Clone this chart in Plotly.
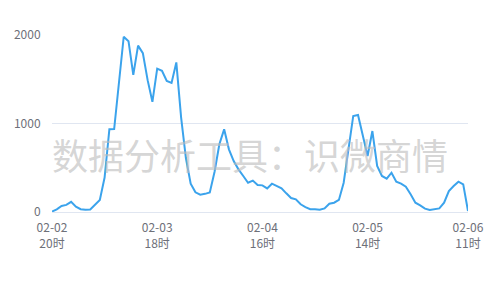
import plotly.graph_objects as go
import pandas as pd

# hourly categories from 02-02 20时 to 02-06 11时
hours = pd.date_range("2023-02-02 20:00", "2023-02-06 11:00", freq="h")
categories = [f"{h.strftime('%m-%d')} {h.hour}时" for h in hours]

values = [5, 30, 68, 80, 115, 60, 32, 25, 28, 87,
          135, 390, 935, 938, 1450, 1980, 1930, 1550, 1880, 1795,
          1490, 1245, 1620, 1595, 1480, 1458, 1690, 1070, 610, 320,
          222, 196, 205, 220, 455, 765, 934, 708, 576, 482,
          407, 331, 355, 305, 301, 267, 320, 290, 267, 211,
          158, 143, 87, 56, 32, 32, 25, 41, 94, 105,
          136, 331, 727, 1085, 1096, 859, 633, 915, 520, 407,
          377, 444, 343, 320, 286, 200, 105, 75, 38, 23,
          30, 41, 105, 237, 294, 343, 313, 11]

tick_cats = ["02-02 20时", "02-03 18时", "02-04 16时", "02-05 14时", "02-06 11时"]
tick_text = ["02-02<br>20时", "02-03<br>18时", "02-04<br>16时", "02-05<br>14时", "02-06<br>11时"]
y_ticks = [0, 1000, 2000]

font_family = "Noto Sans CJK SC, Noto Sans, sans-serif"

fig = go.Figure()
fig.add_trace(go.Scatter(
    x=categories, y=values, mode="lines",
    line=dict(color="#3ba3ec", width=2),
    hoverinfo="x+y",
))

fig.update_layout(
    width=500, height=300,
    margin=dict(l=52, r=32, t=35, b=88),
    paper_bgcolor="white", plot_bgcolor="white",
    showlegend=False,
    font=dict(family=font_family, size=12, color="#6e7079"),
    xaxis=dict(
        type="category",
        range=[0, len(categories) - 1],
        tickmode="array", tickvals=tick_cats, ticktext=tick_text,
        showgrid=False, zeroline=False,
        showline=True, linecolor="#e0e6f1", linewidth=1,
        ticks="outside", ticklen=5, tickcolor="rgba(0,0,0,0)",
        tickfont=dict(size=12, color="#6e7079"),
        tickangle=0,
    ),
    yaxis=dict(
        range=[0, 2000],
        tickmode="array", tickvals=y_ticks,
        showgrid=True, gridcolor="#e0e6f1", gridwidth=1,
        zeroline=False, showline=False,
        ticks="outside", ticklen=8, tickcolor="rgba(0,0,0,0)",
        tickfont=dict(size=12, color="#6e7079"),
    ),
    annotations=[dict(
        text="数据分析工具：识微商情",
        xref="paper", yref="paper",
        x=(250 - 52) / 416, y=(212 - 154) / 177,
        xanchor="center", yanchor="middle",
        showarrow=False,
        font=dict(family=font_family, size=36, color="rgba(190,190,190,0.65)"),
    )],
)

fig.write_html("out.html")
